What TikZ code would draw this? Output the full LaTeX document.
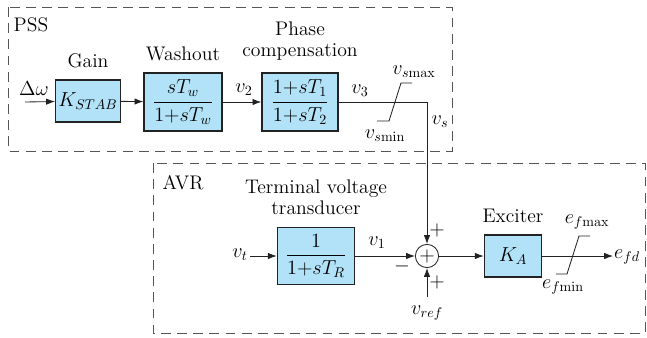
\documentclass[tikz,border=0pt]{standalone}
\usepackage{amsmath}
\usepackage{xcolor}
\usepackage{tikz}
\usetikzlibrary{arrows.meta,positioning,calc}
\definecolor{boxblue}{HTML}{B2E2F7}
\definecolor{framegray}{HTML}{555555}
\definecolor{linedark}{HTML}{222222}
\tikzset{
  blk/.style={draw=linedark, line width=.9pt, fill=boxblue, align=center, inner sep=2pt},
  ar/.style={-{Latex[length=2.2mm,width=1.6mm]}, line width=.6pt, draw=linedark},
  ln/.style={line width=.6pt, draw=linedark},
  frame/.style={draw=framegray, line width=.7pt, dash pattern=on 7pt off 4.5pt},
  lbl/.style={align=center, inner sep=1pt},
  sumnode/.style={circle, draw=linedark, line width=.6pt, fill=white, minimum size=5.8mm, inner sep=0pt},
}
\begin{document}
\begin{tikzpicture}[x=0.025cm, y=-0.025cm, font=\fontsize{14}{15.5}\selectfont]
        \useasboundingbox (0,0) rectangle (647,337);
        % dashed frames
        \draw[frame] (8,7) rectangle (452,151);
        \draw[frame] (153,163) rectangle (645,333);
        \node[lbl] (psslbl) at (31,25) {PSS};
        \node[lbl] (avrlbl) at (183,183) {AVR};
        % PSS blocks
        \node[blk, minimum width=1.4cm, minimum height=1.05cm] (gain) at (88,101) {$K_{STAB}$};
        \node[blk, minimum width=1.95cm, minimum height=1.45cm] (washout) at (183,102) {$\dfrac{sT_w}{1{+}sT_w}$};
        \node[blk, minimum width=1.9cm, minimum height=1.45cm] (phase) at (300,102) {$\dfrac{1{+}sT_1}{1{+}sT_2}$};
        \node[lbl, above=2.5mm of gain] (gainlbl) {Gain};
        \node[lbl, above=2.5mm of washout] (washlbl) {Washout};
        \node[lbl, above=2.5mm of phase] (phaselbl) {Phase\\compensation};
        % AVR blocks
        \node[blk, minimum width=1.93cm, minimum height=1.43cm] (transd) at (316,256) {$\dfrac{1}{1{+}sT_R}$};
        \node[sumnode] (sum) at (427,256) {$+$};
        \node[blk, minimum width=1.43cm, minimum height=1.05cm] (exciter) at (513,256) {$K_A$};
        \node[lbl, above=2.5mm of transd] (transdlbl) {Terminal voltage\\transducer};
        \node[lbl, above=2.5mm of exciter] (exclbl) {Exciter};
        % free ends
        \coordinate (dwin) at (25,102);
        \coordinate (vsc) at (427,102);
        \coordinate (vtin) at (250,256);
        \coordinate (vrefin) at (427,297);
        \coordinate (efdout) at (613,256);
        % connectors
        \draw[ar] (dwin) -- (gain);
        \draw[ar] (gain) -- (washout);
        \draw[ar] (washout) -- (phase);
        \draw[ar] (phase.east) -- (vsc) -- (sum);
        \draw[ar] (vtin) -- (transd);
        \draw[ar] (transd) -- (sum);
        \draw[ar] (vrefin) -- (sum);
        \draw[ar] (sum) -- (exciter);
        \draw[ar] (exciter) -- (efdout);
        % limiters
        \draw[ln] (377,121) -- ++(12,0) -- ++(12,-38) -- ++(11,0);
        \draw[ln] (556,274) -- ++(11,0) -- ++(12,-38) -- ++(11,0);
        % signal labels
        \node[lbl] (dwlbl) at (34,89) {$\Delta\omega$};
        \node[lbl] (v2lbl) at (244,90) {$v_2$};
        \node[lbl] (v3lbl) at (360,91) {$v_3$};
        \node[lbl] (vslbl) at (440,122) {$v_s$};
        \node[lbl] (vsmax) at (414,72) {$v_{s\mathrm{max}}$};
        \node[lbl] (vsmin) at (385,136) {$v_{s\mathrm{min}}$};
        \node[lbl] (vtlbl) at (240,255) {$v_t$};
        \node[lbl] (v1lbl) at (377,243) {$v_1$};
        \node[lbl] (minus) at (402,266) {$-$};
        \node[lbl] (plusa) at (437,230) {$+$};
        \node[lbl] (plusb) at (437,282) {$+$};
        \node[lbl] (vreflbl) at (427,313) {$v_{ref}$};
        \node[lbl] (efmax) at (587,222) {$e_{f\mathrm{max}}$};
        \node[lbl] (efmin) at (563,287) {$e_{f\mathrm{min}}$};
        \node[lbl] (efdlbl) at (627,257) {$e_{fd}$};
      \end{tikzpicture}
\end{document}
